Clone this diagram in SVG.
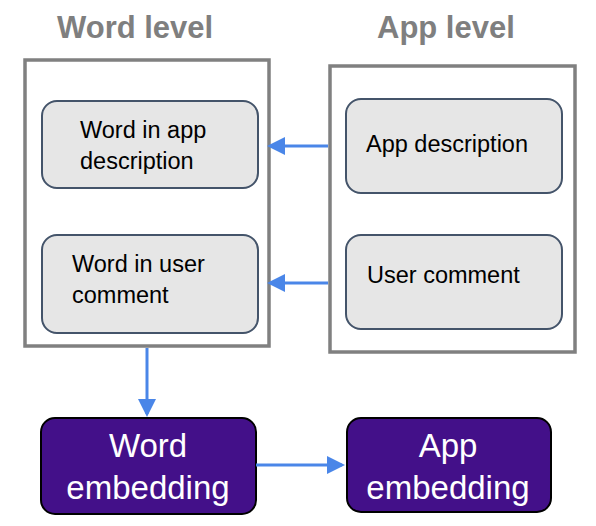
<svg xmlns="http://www.w3.org/2000/svg" width="596" height="526" viewBox="0 0 596 526">
<style>
.title{font-family:"Liberation Sans",Arial,sans-serif;font-weight:bold;font-size:31px;fill:#7f7f7f}
.frame{fill:#fff;stroke:#808080;stroke-width:3.5}
.inner{fill:#e6e6e6;stroke:#44546a;stroke-width:2}
.lbl{font-family:"Liberation Sans",Arial,sans-serif;font-size:23.5px;fill:#000}
.emb{fill:#431089;stroke:#000;stroke-width:2}
.elbl{font-family:"Liberation Sans",Arial,sans-serif;font-size:33px;fill:#fff;text-anchor:middle}
.conn{stroke:#4a86e8;stroke-width:3;fill:none;marker-end:url(#ah)}
</style>
<defs>
<marker id="ah" markerWidth="6" markerHeight="6" refX="5" refY="3" orient="auto" markerUnits="strokeWidth" viewBox="0 0 6 6">
<path d="M0,0 L6,3 L0,6 z" fill="#4a86e8"/>
</marker>
</defs>
<rect width="596" height="526" fill="#fff"/>
<g id="word-level">
<text class="title" x="57" y="38">Word level</text>
<rect class="frame" x="25" y="60" width="244" height="286"/>
</g>
<g id="app-level">
<text class="title" x="377" y="38">App level</text>
<rect class="frame" x="330" y="66" width="245" height="286"/>
</g>
<g id="word-app-desc">
<rect class="inner" x="42" y="101" width="216" height="87" rx="15"/>
<text class="lbl" x="80" y="138">Word in app</text>
<text class="lbl" x="80" y="169">description</text>
</g>
<g id="word-user-comment">
<rect class="inner" x="42" y="235" width="216" height="98" rx="15"/>
<text class="lbl" x="72" y="272">Word in user</text>
<text class="lbl" x="72" y="303">comment</text>
</g>
<g id="app-desc">
<rect class="inner" x="346" y="99" width="216" height="94" rx="15"/>
<text class="lbl" x="366" y="152">App description</text>
</g>
<g id="user-comment">
<rect class="inner" x="346" y="235" width="216" height="94" rx="15"/>
<text class="lbl" x="367" y="283">User comment</text>
</g>
<g id="word-embedding">
<rect class="emb" x="41" y="418" width="215" height="96" rx="14"/>
<text class="elbl" x="148" y="457">Word</text>
<text class="elbl" x="148" y="499">embedding</text>
</g>
<g id="app-embedding">
<rect class="emb" x="347" y="418" width="204" height="94" rx="14"/>
<text class="elbl" x="448" y="457">App</text>
<text class="elbl" x="448" y="499">embedding</text>
</g>
<g id="connectors">
<line class="conn" x1="328" y1="146" x2="270" y2="146"/>
<line class="conn" x1="328" y1="283" x2="270" y2="283"/>
<line class="conn" x1="147" y1="348" x2="147" y2="414"/>
<line class="conn" x1="256" y1="465" x2="342" y2="465"/>
</g>
</svg>
